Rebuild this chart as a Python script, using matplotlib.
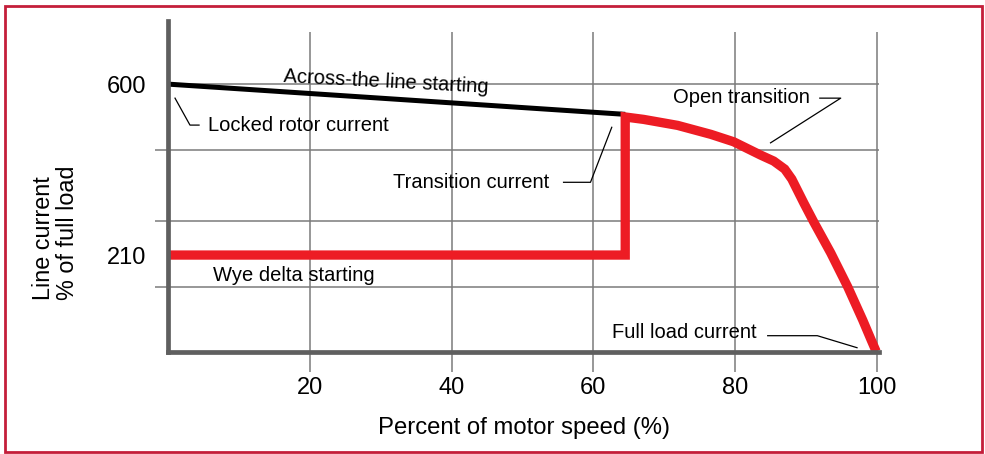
import matplotlib.pyplot as plt
import matplotlib.patches as patches

plt.rcParams['font.family'] = ['Liberation Sans', 'DejaVu Sans']

# data
speed_ticks = [20, 40, 60, 80, 100]
current_labels = [210, 600]
grid_y = [137, 288, 450, 600]

# across-the-line starting (black)
atl_x = [0, 64.5]
atl_y = [600, 531]

# wye delta starting + open transition (red)
wye_x = [0, 64.5, 64.5, 67.1, 71.9, 76.6, 79.8, 83.6, 85.45, 87.0, 88.0, 88.85,
         89.7, 91.1, 93.5, 95.9, 98.0, 99.2, 99.9]
wye_y = [210, 210, 525, 519.5, 505.8, 485.3, 468.4, 438.1, 424.4, 406.1, 383.3, 356.0,
         328.6, 285.3, 214.6, 137.0, 61.8, 16.1, -10]

GRAY = '#7a7a7a'
SPINE = '#5f5f5f'
RED = '#ed1c24'

fig = plt.figure(figsize=(9.85, 4.54), dpi=100)
ax = fig.add_axes([168/985, 1-352/454, (879-168)/985, (352-21)/454])
ax.set_xlim(0, 100.3)
ax.set_ylim(-11.2, 744)

# grid
ax.vlines(speed_ticks, -11.2, 719, color=GRAY, lw=1.1, zorder=1)
ax.hlines(grid_y, 0, 100.3, color=GRAY, lw=1.1, zorder=1)

# curves
ax.plot(atl_x, atl_y, color='black', lw=3.6, solid_capstyle='butt', zorder=3)
ax.plot(wye_x, wye_y, color=RED, lw=6.7, solid_joinstyle='miter',
        solid_capstyle='butt', zorder=4, clip_on=False)

# spines
for s in ['top', 'right']:
    ax.spines[s].set_visible(False)
for s in ['left', 'bottom']:
    ax.spines[s].set_color(SPINE)
    ax.spines[s].set_linewidth(3.4)
    ax.spines[s].set_zorder(5)

ax.set_xticks(speed_ticks)
ax.tick_params(axis='x', length=14.4, width=1.1, color=GRAY, labelsize=17, pad=3.5)
ax.set_yticks(current_labels)
ax.set_yticks(grid_y, minor=True)
ax.tick_params(axis='y', which='major', length=0, labelsize=17, pad=16)
ax.tick_params(axis='y', which='minor', length=9.4, width=1.1, color=GRAY)

ax.set_xlabel('Percent of motor speed (%)', fontsize=17.2, va='center')
ax.xaxis.set_label_coords(0.5, -76/331)

fig.text(44/985, 1-300/454, 'Line current', rotation=90, ha='center', va='bottom', fontsize=16.8)
fig.text(67/985, 1-300/454, '% of full load', rotation=90, ha='center', va='bottom', fontsize=16.8)

# annotations
fs = 14.5
ax.text(30.8, 606, 'Across-the line starting', fontsize=fs, rotation=-3,
        rotation_mode='anchor', ha='center', va='center')
ax.text(5.65, 506.5, 'Locked rotor current', fontsize=fs, va='center')
ax.plot([0.99, 3.1, 4.38], [568, 506.5, 506.5], color='black', lw=0.9)
ax.text(31.8, 376, 'Transition current', fontsize=fs, va='center')
ax.plot([55.8, 59.6, 62.6], [376, 376, 501.5], color='black', lw=0.9)
ax.text(71.2, 570, 'Open transition', fontsize=fs, va='center')
ax.plot([91.95, 94.9, 85.0], [568, 568, 466], color='black', lw=0.9)
ax.text(62.7, 34.4, 'Full load current', fontsize=fs, va='center')
ax.plot([84.6, 91.6, 97.2], [26, 26, -1.4], color='black', lw=0.9)
ax.text(6.36, 164.4, 'Wye delta starting', fontsize=fs, va='center')

# frame around the whole figure
fig.patches.append(patches.Rectangle((5/985, 1-452/454), 977/985, 446/454,
                                     transform=fig.transFigure, fill=False,
                                     edgecolor='#c41e3a', lw=2))

fig.savefig('out.png', dpi=100)
